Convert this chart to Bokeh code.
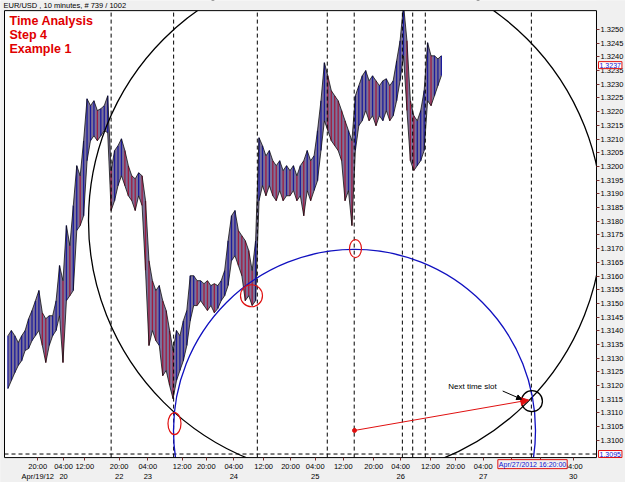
import numpy as np
from bokeh.plotting import figure
from bokeh.models import (Range1d, FixedTicker, Label, Arrow, NormalHead, LinearAxis,
                          ColumnDataSource, PrintfTickFormatter)
from bokeh.embed import file_html
from bokeh.resources import INLINE

# ---------------- data (EUR/USD, 10-minute chart, sampled per hour) ----------------
highs = [1.31382, 1.31401, 1.31382, 1.31357, 1.31382, 1.31401, 1.31444, 1.31474, 1.31510, 1.31547,
         1.31466, 1.31444, 1.31455, 1.31455, 1.31510, 1.31638, 1.31583, 1.31784, 1.31711, 1.31857,
         1.32003, 1.31966, 1.32094, 1.32247, 1.32222, 1.32240, 1.32204, 1.32211, 1.32222, 1.32258,
         1.31985, 1.32058, 1.32076, 1.32101, 1.32058, 1.32003, 1.31966, 1.31955, 1.31977, 1.31966,
         1.31875, 1.31656, 1.31583, 1.31547, 1.31565, 1.31510, 1.31474, 1.31401, 1.31328, 1.31401,
         1.31382, 1.31437, 1.31474, 1.31601, 1.31601, 1.31583, 1.31583, 1.31572, 1.31583, 1.31565,
         1.31572, 1.31565, 1.31583, 1.31620, 1.31729, 1.31820, 1.31839, 1.31766, 1.31747, 1.31729,
         1.31693, 1.31620, 1.31729, 1.32105, 1.32076, 1.32039, 1.32058, 1.32021, 1.32003, 1.32021,
         1.31985, 1.32003, 1.31985, 1.32003, 1.31966, 1.32003, 1.32021, 1.32058, 1.32021, 1.32039,
         1.32131, 1.32240, 1.32379, 1.32331, 1.32277, 1.32258, 1.32240, 1.32204, 1.32167, 1.32131,
         1.32094, 1.32258, 1.32295, 1.32331, 1.32350, 1.32313, 1.32331, 1.32313, 1.32295, 1.32313,
         1.32320, 1.32295, 1.32313, 1.32386, 1.32459, 1.32590, 1.32459, 1.32240, 1.32185, 1.32167,
         1.32204, 1.32277, 1.32452, 1.32404, 1.32404, 1.32393, 1.32404]
lows = [1.31189, 1.31218, 1.31247, 1.31273, 1.31291, 1.31328, 1.31335, 1.31364, 1.31382, 1.31401,
        1.31346, 1.31284, 1.31346, 1.31382, 1.31401, 1.31455, 1.31284, 1.31510, 1.31528, 1.31547,
        1.31766, 1.31784, 1.31820, 1.32021, 1.32094, 1.32112, 1.32094, 1.32112, 1.32131, 1.32123,
        1.31839, 1.31875, 1.31930, 1.31966, 1.31930, 1.31893, 1.31875, 1.31839, 1.31893, 1.31857,
        1.31620, 1.31346, 1.31401, 1.31364, 1.31346, 1.31236, 1.31255, 1.31200, 1.31152, 1.31218,
        1.31255, 1.31291, 1.31346, 1.31437, 1.31492, 1.31492, 1.31510, 1.31492, 1.31474, 1.31492,
        1.31466, 1.31481, 1.31510, 1.31528, 1.31565, 1.31656, 1.31674, 1.31638, 1.31601, 1.31510,
        1.31528, 1.31492, 1.31510, 1.31875, 1.31930, 1.31893, 1.31930, 1.31893, 1.31875, 1.31912,
        1.31875, 1.31893, 1.31893, 1.31912, 1.31875, 1.31893, 1.31820, 1.31912, 1.31875, 1.31912,
        1.31948, 1.32058, 1.32167, 1.32131, 1.32094, 1.32076, 1.32058, 1.32021, 1.31875, 1.31912,
        1.31784, 1.32058, 1.32149, 1.32167, 1.32204, 1.32167, 1.32185, 1.32149, 1.32185, 1.32167,
        1.32204, 1.32167, 1.32185, 1.32240, 1.32313, 1.32404, 1.32204, 1.32021, 1.31985, 1.32003,
        1.32021, 1.32058, 1.32240, 1.32222, 1.32258, 1.32295, 1.32331]
BARS_PER_SAMPLE = 6  # one sample per hour of 10-minute bars
bar_index = [BARS_PER_SAMPLE * (i + 1) for i in range(len(highs))]

price_ticks = [1.3100, 1.3105, 1.3110, 1.3115, 1.3120, 1.3125, 1.3130, 1.3135, 1.3140, 1.3145,
               1.3150, 1.3155, 1.3160, 1.3165, 1.3170, 1.3175, 1.3180, 1.3185, 1.3190, 1.3195,
               1.3200, 1.3205, 1.3210, 1.3215, 1.3220, 1.3225, 1.3230, 1.3235, 1.3240, 1.3245,
               1.3250]
time_tick_bars = [58, 103, 140, 200, 250, 310, 352, 400, 452, 499, 542, 591, 644, 691, 743,
                  787, 835, 884, 935, 992]
time_tick_labels = ["20:00\nApr/19/12", "04:00\n20", "12:00", "20:00\n22", "04:00\n23", "12:00",
                    "20:00", "04:00\n24", "12:00", "20:00", "04:00\n25", "12:00", "20:00",
                    "04:00\n26", "12:00", "20:00", "04:00\n27", "12:00", "20:00", "04:00\n30"]

# chart window (bars / price) and whole view incl. margins
chart_x = (0.0, 1032.6)
chart_y = (1.30937, 1.32569)
view_x = (-6.98, 1083.2)
view_y = (1.30846, 1.32606)

# drawn objects (in bar index / price)
time_slot_bars = [186, 295, 441, 563, 610, 694, 712, 734, 919]
hline_price = 1.3095
last_price = 1.3237
big_circle = dict(x=594.8, y=1.31802, r=257)
blue_circle = dict(x=610.5, y=1.31036, r=181)
marker_x = [296.5, 430.8, 612.2]
marker_y = [1.31061, 1.31528, 1.31700]
marker_w = [13, 22, 12]
marker_h = [22, 22, 18]
slot_x, slot_y = 920.0, 1.31143

FONT = "Liberation Sans"
BG = "#f0f0f0"

# ---------------- figure ----------------
p = figure(width=625, height=482, output_backend="svg", toolbar_location=None,
           x_range=Range1d(*view_x), y_range=Range1d(*view_y),
           x_axis_location=None, y_axis_location=None,
           min_border=0)
p.background_fill_color = BG
p.border_fill_color = BG
p.outline_line_color = None
p.grid.visible = False

# chart window
p.quad(left=chart_x[0], right=chart_x[1], bottom=chart_y[0], top=chart_y[1],
       fill_color="white", line_color=None)

# price bars
mids = [(h + l) / 2 for h, l in zip(highs, lows)]
colors = ["#1c1c9c" if i == 0 or mids[i] >= mids[i - 1] else "#a01c40" for i in range(len(mids))]
src = ColumnDataSource(dict(x=bar_index, hi=highs, lo=lows, c=colors))
p.varea(x="x", y1="lo", y2="hi", source=src, fill_color="#2c1c5c", fill_alpha=0.62)
p.segment(x0="x", y0="lo", x1="x", y1="hi", source=src, line_color="c", line_width=1.3)
p.line(x="x", y="hi", source=src, line_color="#101010", line_width=1.0, line_alpha=0.8)
p.line(x="x", y="lo", source=src, line_color="#101010", line_width=1.0, line_alpha=0.8)

# time-slot lines and horizontal line
p.segment(x0=time_slot_bars, x1=time_slot_bars, y0=chart_y[0], y1=chart_y[1],
          line_color="black", line_dash="4 3", line_width=1)
p.segment(x0=chart_x[0], x1=chart_x[1], y0=hline_price, y1=hline_price,
          line_color="black", line_dash="4 3", line_width=1)

# circles
p.circle(x=[big_circle["x"]], y=[big_circle["y"]], radius=big_circle["r"], radius_units="screen",
         fill_color=None, line_color="black", line_width=1.3)
p.circle(x=[blue_circle["x"]], y=[blue_circle["y"]], radius=blue_circle["r"], radius_units="screen",
         fill_color=None, line_color="#1010c0", line_width=1.3)
p.ellipse(x=marker_x, y=marker_y, width=marker_w, height=marker_h, width_units="screen",
          height_units="screen", fill_color=None, line_color="#e01010", line_width=1.2)
p.circle(x=[slot_x], y=[slot_y], radius=10.5, radius_units="screen", fill_color=None,
         line_color="black", line_width=1.3)
p.scatter(x=[blue_circle["x"]], y=[blue_circle["y"]], size=4, color="#e01010")

# masks outside the chart window (clip the drawing to the window)
p.quad(left=[view_x[0], view_x[0], view_x[0], chart_x[1]],
       right=[view_x[1], view_x[1], chart_x[0], view_x[1]],
       bottom=[chart_y[1], view_y[0], view_y[0], view_y[0]],
       top=[view_y[1], chart_y[0], view_y[1], view_y[1]],
       fill_color=BG, line_color=None)
# window border
p.quad(left=chart_x[0], right=chart_x[1], bottom=chart_y[0], top=chart_y[1],
       fill_color=None, line_color="black", line_width=1)

# axes (library axes, pinned to the window edges)
yax = LinearAxis(fixed_location=chart_x[1], ticker=FixedTicker(ticks=price_ticks),
                 formatter=PrintfTickFormatter(format="%.4f"))
xax = LinearAxis(fixed_location=chart_y[0], ticker=FixedTicker(ticks=time_tick_bars),
                 major_label_overrides={b: t for b, t in zip(time_tick_bars, time_tick_labels)})
for ax in (xax, yax):
    ax.axis_line_color = None
    ax.major_tick_in = 0
    ax.major_tick_out = 3
    ax.minor_tick_line_color = None
    ax.major_tick_line_color = "#7a3030"
    ax.major_label_text_font = FONT
    ax.major_label_text_font_size = "7.5px"
    ax.major_label_text_color = "black"
    ax.major_label_standoff = 1
p.add_layout(yax, "right")
p.add_layout(xax, "below")

# arrows and annotation text
p.add_layout(Arrow(end=NormalHead(size=8, fill_color="#e01010", line_color="#e01010"),
                   x_start=blue_circle["x"], y_start=blue_circle["y"], x_end=914.5, y_end=1.31147,
                   line_color="#e01010", line_width=1))
p.add_layout(Arrow(end=NormalHead(size=5, fill_color="black", line_color="black"),
                   x_start=869, y_start=1.31180, x_end=902, y_end=1.31150,
                   line_color="black", line_width=1))
p.add_layout(Label(x=774, y=1.31196, text="Next time slot", text_font=FONT,
                   text_font_size="8px", text_baseline="middle", text_color="black"))

for txt, yy in zip(["Time Analysis", "Step 4", "Example 1"], [1.32532, 1.32481, 1.32430]):
    p.add_layout(Label(x=8.7, y=yy, text=txt, text_font=FONT,
                       text_font_size="12.5px", text_font_style="bold", text_color="#e00000",
                       text_baseline="middle"))

p.add_layout(Label(x=-1.7, y=1.32588, text="EUR/USD , 10 minutes, # 739 / 1002",
                   text_font=FONT, text_font_size="7.5px",
                   text_baseline="middle", text_color="black"))
for pr, txt in [(last_price, "1.3237"), (hline_price, "1.3095")]:
    p.add_layout(Label(x=1077, y=pr, text=txt, text_font=FONT, text_align="right",
                       text_font_size="7px", text_baseline="middle", text_color="#1010d0",
                       border_line_color="#e01010", background_fill_color="white", padding=1))
p.add_layout(Label(x=921, y=1.30913, text="Apr/27/2012 16:20:00", text_font=FONT,
                   text_font_size="7px", text_baseline="middle", text_align="center",
                   text_color="#1010d0", border_line_color="#e01010",
                   background_fill_color=BG, padding=1))

open("out.html", "w").write(file_html(p, INLINE))
